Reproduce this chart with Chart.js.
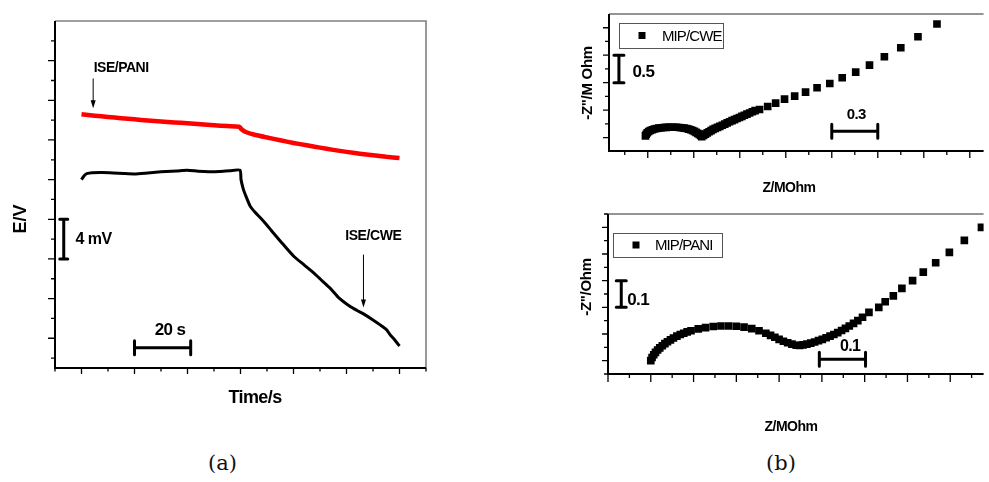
<!DOCTYPE html>
<html>
<head>
<meta charset="UTF-8">
<title>Potential drift and impedance</title>
<script src="https://cdn.jsdelivr.net/npm/chart.js"></script>
<style>
  body { margin: 0; background: #fff; }
  #wrap { position: relative; width: 989px; height: 482px; overflow: hidden; background: #fff; }
  #wrap canvas { position: absolute; }
  .cap { position: absolute; top: 451px; font: 21px "DejaVu Serif", serif; color: #111; }
</style>
</head>
<body>
<div id="wrap">
  <canvas id="chartA" width="450" height="420" style="left:0;top:0"></canvas>
  <canvas id="chartB" width="429" height="200" style="left:560px;top:0"></canvas>
  <canvas id="chartC" width="429" height="240" style="left:560px;top:200px"></canvas>
  <div class="cap" style="left:208px">(a)</div>
  <div class="cap" style="left:766px">(b)</div>
</div>

<script>
// (a) potential vs time, mV relative scale
const paniTime = [0,5,10,15,20,25,30,35,40,45,50,55,59.5,60.5,62,65,70,75,80,85,90,95,100,105,110,115,120];
const paniPotential = [22.6,22.45,22.32,22.2,22.08,21.97,21.87,21.77,21.68,21.58,21.49,21.4,21.33,21.05,20.8,20.55,20.25,19.97,19.7,19.46,19.23,19.0,18.8,18.62,18.47,18.3,18.17];

const cweTime = [0,1,2,4,8,12,16,20,24,28,32,36,40,44,48,52,56,59.8,60.2,61,61.8,63.7,65.5,67.5,70,72.5,76,80,84,87.6,90,93.8,97,101.4,104,106.4,110,112.7,115,116.5,118,120];
const cwePotential = [16.0,16.4,16.6,16.7,16.72,16.68,16.62,16.58,16.65,16.75,16.82,16.88,16.95,16.85,16.8,16.82,16.9,16.95,16.0,15.1,14.5,13.3,12.7,12.15,11.4,10.6,9.5,8.3,7.4,6.6,6.0,5.06,4.1,3.2,2.8,2.46,1.85,1.35,0.9,0.34,-0.1,-0.78];

// (b) top: MIP/CWE Nyquist
const mipCweZre = [0.285,0.29,0.297,0.306,0.317,0.33,0.343,0.357,0.372,0.388,0.404,0.42,0.437,0.454,0.471,0.488,0.505,0.521,0.537,0.552,0.566,0.58,0.592,0.604,0.615,0.626,0.636,0.645,0.652,
  0.664,0.676,0.688,0.70,0.713,0.726,0.74,0.755,0.77,0.786,0.802,0.818,0.834,0.85,0.866,0.882,0.898,0.914,0.93,0.947,0.964,0.982,1.0,
  1.029,1.082,1.134,1.192,1.258,1.329,1.404,1.487,1.568,1.656,1.746,1.843,1.95,2.062,2.186];
const mipCweZim = [0.03,0.06,0.088,0.11,0.128,0.143,0.155,0.164,0.172,0.178,0.182,0.185,0.187,0.188,0.188,0.187,0.184,0.179,0.172,0.164,0.154,0.142,0.128,0.112,0.095,0.076,0.057,0.037,0.018,
  0.04,0.062,0.084,0.105,0.127,0.148,0.166,0.185,0.204,0.224,0.245,0.266,0.287,0.307,0.327,0.346,0.366,0.386,0.406,0.427,0.448,0.47,0.49,
  0.51,0.565,0.627,0.70,0.754,0.827,0.906,0.985,1.089,1.192,1.32,1.472,1.636,1.836,2.067];

// (b) bottom: MIP/PANI Nyquist
const mipPaniZre = [0.100,0.103,0.107,0.111,0.116,0.121,0.127,0.133,0.139,0.146,0.153,0.161,0.169,0.177,0.185,
  0.194,0.211,0.228,0.246,0.264,0.282,0.3,0.318,0.336,0.353,0.369,
  0.38,0.39,0.40,0.41,0.42,0.43,0.44,0.448,
  0.456,0.465,0.474,0.483,0.492,0.501,0.51,0.519,0.528,0.537,0.546,0.555,0.564,0.574,0.584,0.595,
  0.61,
  0.633,0.648,0.667,0.687,0.712,0.737,0.766,0.798,0.833,0.873];
const mipPaniZim = [0.0,0.012,0.022,0.031,0.04,0.048,0.056,0.064,0.071,0.078,0.085,0.092,0.098,0.103,0.108,
  0.112,0.119,0.124,0.128,0.13,0.13,0.129,0.126,0.12,0.112,0.103,
  0.095,0.088,0.08,0.073,0.067,0.062,0.058,0.057,
  0.059,0.062,0.066,0.07,0.075,0.08,0.086,0.092,0.098,0.105,0.113,0.121,0.13,0.14,0.15,0.163,
  0.181,
  0.2,0.221,0.243,0.271,0.3,0.332,0.367,0.406,0.451,0.5];

// tick positions (no labels in the figure)
const timeMajor = [0,20,40,60,80,100,120];
const timeMinor = [-10,10,30,50,70,90,110,130];
const potMajor = [0,4,8,12,16,20,24,28];
const potMinor = [-2,2,6,10,14,18,22,26,30];
const cweXMajor = [0.3,0.6,0.9,1.2,1.5,1.8,2.1,2.4];
const cweXMinor = [0.15,0.45,0.75,1.05,1.35,1.65,1.95,2.25];
const cweYMajor = [0,0.5,1,1.5,2];
const cweYMinor = [0.25,0.75,1.25,1.75];
const paniXMajor = [0,0.1,0.2,0.3,0.4,0.5,0.6,0.7,0.8];
const paniXMinor = [0.05,0.15,0.25,0.35,0.45,0.55,0.65,0.75,0.85];
const paniYMajor = [0,0.1,0.2,0.3,0.4,0.5];
const paniYMinor = [-0.05,0.05,0.15,0.25,0.35,0.45,0.55];

const toXY = (xs, ys) => xs.map((x, i) => ({ x: x, y: ys[i] }));
const SANS = '"Liberation Sans", Arial, sans-serif';

function text(ctx, str, x, y, font, spacing, align, rot) {
  ctx.save();
  ctx.font = font;
  ctx.letterSpacing = (spacing || 0) + 'px';
  ctx.fillStyle = '#000';
  ctx.textBaseline = 'middle';
  ctx.textAlign = align || 'center';
  ctx.translate(x, y);
  if (rot) ctx.rotate(rot);
  ctx.fillText(str, 0, 0);
  ctx.restore();
}

// frame, ticks, titles, scale bars, arrows and legend box
const decor = {
  id: 'decor',
  afterDatasetsDraw(chart, args, o) {
    const ctx = chart.ctx, a = chart.chartArea;
    const X = v => chart.scales.x.getPixelForValue(v);
    const Y = v => chart.scales.y.getPixelForValue(v);
    ctx.save();
    // gray top/right frame
    ctx.strokeStyle = o.frameColor;
    ctx.lineWidth = 1.6;
    ctx.beginPath();
    ctx.moveTo(a.left, a.top); ctx.lineTo(a.right, a.top);
    if (o.rightBorder) ctx.lineTo(a.right, a.bottom);
    ctx.stroke();
    // black axes
    ctx.strokeStyle = '#000';
    ctx.lineWidth = 2;
    ctx.beginPath();
    ctx.moveTo(a.left, a.top); ctx.lineTo(a.left, a.bottom); ctx.lineTo(a.right, a.bottom);
    ctx.stroke();
    // ticks
    ctx.lineWidth = 1.3;
    ctx.beginPath();
    const t = o.ticks;
    t.xMajor.forEach(v => { const p = X(v); ctx.moveTo(p, a.bottom); ctx.lineTo(p, a.bottom + t.xLen[0]); });
    t.xMinor.forEach(v => { const p = X(v); ctx.moveTo(p, a.bottom); ctx.lineTo(p, a.bottom + t.xLen[1]); });
    t.yMajor.forEach(v => { const p = Y(v); ctx.moveTo(a.left, p); ctx.lineTo(a.left - t.yLen[0], p); });
    t.yMinor.forEach(v => { const p = Y(v); ctx.moveTo(a.left, p); ctx.lineTo(a.left - t.yLen[1], p); });
    ctx.stroke();
    // axis titles
    o.titles.forEach(tt => text(ctx, tt.text, tt.x, tt.y, tt.font, tt.spacing, 'center', tt.rot));
    // scale bars
    ctx.lineWidth = 3;
    ctx.lineCap = 'round';
    o.bars.forEach(b => {
      const x1 = X(b.x1), y1 = Y(b.y1), x2 = X(b.x2), y2 = Y(b.y2);
      ctx.beginPath();
      ctx.moveTo(x1, y1); ctx.lineTo(x2, y2);
      if (x1 === x2) {
        ctx.moveTo(x1 - b.cap, y1); ctx.lineTo(x1 + b.cap, y1);
        ctx.moveTo(x2 - b.cap, y2); ctx.lineTo(x2 + b.cap, y2);
      } else {
        ctx.moveTo(x1, y1 - b.cap); ctx.lineTo(x1, y1 + b.cap);
        ctx.moveTo(x2, y2 - b.cap); ctx.lineTo(x2, y2 + b.cap);
      }
      ctx.stroke();
      text(ctx, b.label, X(b.lx), Y(b.ly), b.font, b.spacing, b.align);
    });
    // arrows with labels
    (o.arrows || []).forEach(ar => {
      const x = X(ar.x), y1 = Y(ar.y1), y2 = Y(ar.y2);
      ctx.lineWidth = 1;
      ctx.lineCap = 'butt';
      ctx.beginPath();
      ctx.moveTo(x, y1); ctx.lineTo(x, y2 - 6);
      ctx.stroke();
      ctx.beginPath();
      ctx.moveTo(x - 2.5, y2 - 8); ctx.lineTo(x + 2.5, y2 - 8); ctx.lineTo(x, y2);
      ctx.closePath();
      ctx.fillStyle = '#000';
      ctx.fill();
      text(ctx, ar.label, X(ar.lx), Y(ar.ly), ar.font, ar.spacing, 'left');
    });
    // legend box
    if (o.legend) {
      const L = o.legend;
      const bx = a.left + L.left, by = a.top + L.top;
      ctx.lineWidth = 1;
      ctx.strokeStyle = '#555';
      ctx.strokeRect(bx + 0.5, by + 0.5, L.w, L.h);
      ctx.fillStyle = '#000';
      ctx.fillRect(bx + L.mx - 3.5, by + L.h / 2 - 3.5, 7, 7);
      text(ctx, chart.data.datasets[0].label, bx + L.tx, by + L.h / 2 + 1, '15px ' + SANS, -0.9, 'left');
    }
    ctx.restore();
  }
};
Chart.register(decor);

function baseOptions(pad, xr, yr, deco) {
  return {
    responsive: false,
    animation: false,
    layout: { padding: pad },
    scales: {
      x: { type: 'linear', display: false, min: xr[0], max: xr[1] },
      y: { type: 'linear', display: false, min: yr[0], max: yr[1] }
    },
    plugins: { legend: { display: false }, tooltip: { enabled: false }, decor: deco }
  };
}

// (a)
new Chart(document.getElementById('chartA'), {
  type: 'scatter',
  data: {
    datasets: [
      { label: 'ISE/PANI', data: toXY(paniTime, paniPotential), showLine: true, borderColor: '#ff0000',
        borderWidth: 4.5, pointRadius: 0, tension: 0.2 },
      { label: 'ISE/CWE', data: toXY(cweTime, cwePotential), showLine: true, borderColor: '#000',
        borderWidth: 3, pointRadius: 0, tension: 0.2 }
    ]
  },
  options: baseOptions({ left: 55, top: 21, right: 24, bottom: 52 }, [-10, 130], [-3, 32], {
    frameColor: '#808080', rightBorder: true,
    ticks: { xMajor: timeMajor, xMinor: timeMinor, yMajor: potMajor, yMinor: potMinor, xLen: [6, 3.5], yLen: [7, 4] },
    titles: [
      { text: 'Time/s', x: 255, y: 398, font: 'bold 18px ' + SANS, spacing: -0.6 },
      { text: 'E/V', x: 21, y: 219, font: 'bold 18px ' + SANS, spacing: 0, rot: -Math.PI / 2 }
    ],
    bars: [
      { x1: -6.7, y1: 12, x2: -6.7, y2: 8, cap: 4, label: '4 mV', lx: -2.3, ly: 9.96, font: 'bold 16px ' + SANS, spacing: -0.5, align: 'left' },
      { x1: 20, y1: -0.95, x2: 41.2, y2: -0.95, cap: 7, label: '20 s', lx: 33.4, ly: 0.84, font: 'bold 17px ' + SANS, spacing: -0.6, align: 'center' }
    ],
    arrows: [
      { x: 4.4, y1: 26.2, y2: 23.2, label: 'ISE/PANI', lx: 4.6, ly: 27.2, font: 'bold 14px ' + SANS, spacing: -0.5 },
      { x: 106.4, y1: 8.44, y2: 3.1, label: 'ISE/CWE', lx: 99.5, ly: 10.3, font: 'bold 14px ' + SANS, spacing: -0.4 }
    ]
  })
});

// (b) top
new Chart(document.getElementById('chartB'), {
  type: 'scatter',
  data: {
    datasets: [
      { label: 'MIP/CWE', data: toXY(mipCweZre, mipCweZim), pointStyle: 'rect', pointRadius: 5.4,
        backgroundColor: '#000', borderWidth: 0 }
    ]
  },
  options: baseOptions({ left: 49, top: 14, right: 0, bottom: 49 }, [0.0473, 2.49], [-0.245, 2.25], {
    frameColor: '#707070', rightBorder: false,
    ticks: { xMajor: cweXMajor, xMinor: cweXMinor, yMajor: cweYMajor, yMinor: cweYMinor, xLen: [7, 4], yLen: [6, 4] },
    titles: [
      { text: 'Z/MOhm', x: 229, y: 188, font: 'bold 14px ' + SANS, spacing: -0.5 },
      { text: '-Z"/M Ohm', x: 28, y: 83, font: 'bold 15px ' + SANS, spacing: -0.3, rot: -Math.PI / 2 }
    ],
    bars: [
      { x1: 0.112, y1: 1.5, x2: 0.112, y2: 1.0, cap: 5, label: '0.5', lx: 0.2, ly: 1.19, font: 'bold 17px ' + SANS, spacing: -0.6, align: 'left' },
      { x1: 1.5, y1: 0.115, x2: 1.8, y2: 0.115, cap: 7, label: '0.3', lx: 1.66, ly: 0.41, font: 'bold 15px ' + SANS, spacing: -0.6, align: 'center' }
    ],
    legend: { left: 10, top: 9, w: 104, h: 25, mx: 23, tx: 43 }
  })
});

// (b) bottom
new Chart(document.getElementById('chartC'), {
  type: 'scatter',
  data: {
    datasets: [
      { label: 'MIP/PANI', data: toXY(mipPaniZre, mipPaniZim), pointStyle: 'rect', pointRadius: 5.4,
        backgroundColor: '#000', borderWidth: 0 }
    ]
  },
  options: baseOptions({ left: 48, top: 14, right: 0, bottom: 66 }, [0, 0.878], [-0.05, 0.55], {
    frameColor: '#707070', rightBorder: false,
    ticks: { xMajor: paniXMajor, xMinor: paniXMinor, yMajor: paniYMajor, yMinor: paniYMinor, xLen: [8, 4], yLen: [6, 4] },
    titles: [
      { text: 'Z/MOhm', x: 231, y: 227, font: 'bold 14px ' + SANS, spacing: -0.5 },
      { text: '-Z"/Ohm', x: 27, y: 87, font: 'bold 15px ' + SANS, spacing: -0.3, rot: -Math.PI / 2 }
    ],
    bars: [
      { x1: 0.031, y1: 0.3, x2: 0.031, y2: 0.2, cap: 5, label: '0.1', lx: 0.045, ly: 0.227, font: 'bold 17px ' + SANS, spacing: -0.6, align: 'left' },
      { x1: 0.494, y1: 0.005, x2: 0.602, y2: 0.005, cap: 7, label: '0.1', lx: 0.566, ly: 0.053, font: 'bold 16px ' + SANS, spacing: -0.6, align: 'center' }
    ],
    legend: { left: 5, top: 19, w: 109, h: 24, mx: 23, tx: 42 }
  })
});
</script>
</body>
</html>
